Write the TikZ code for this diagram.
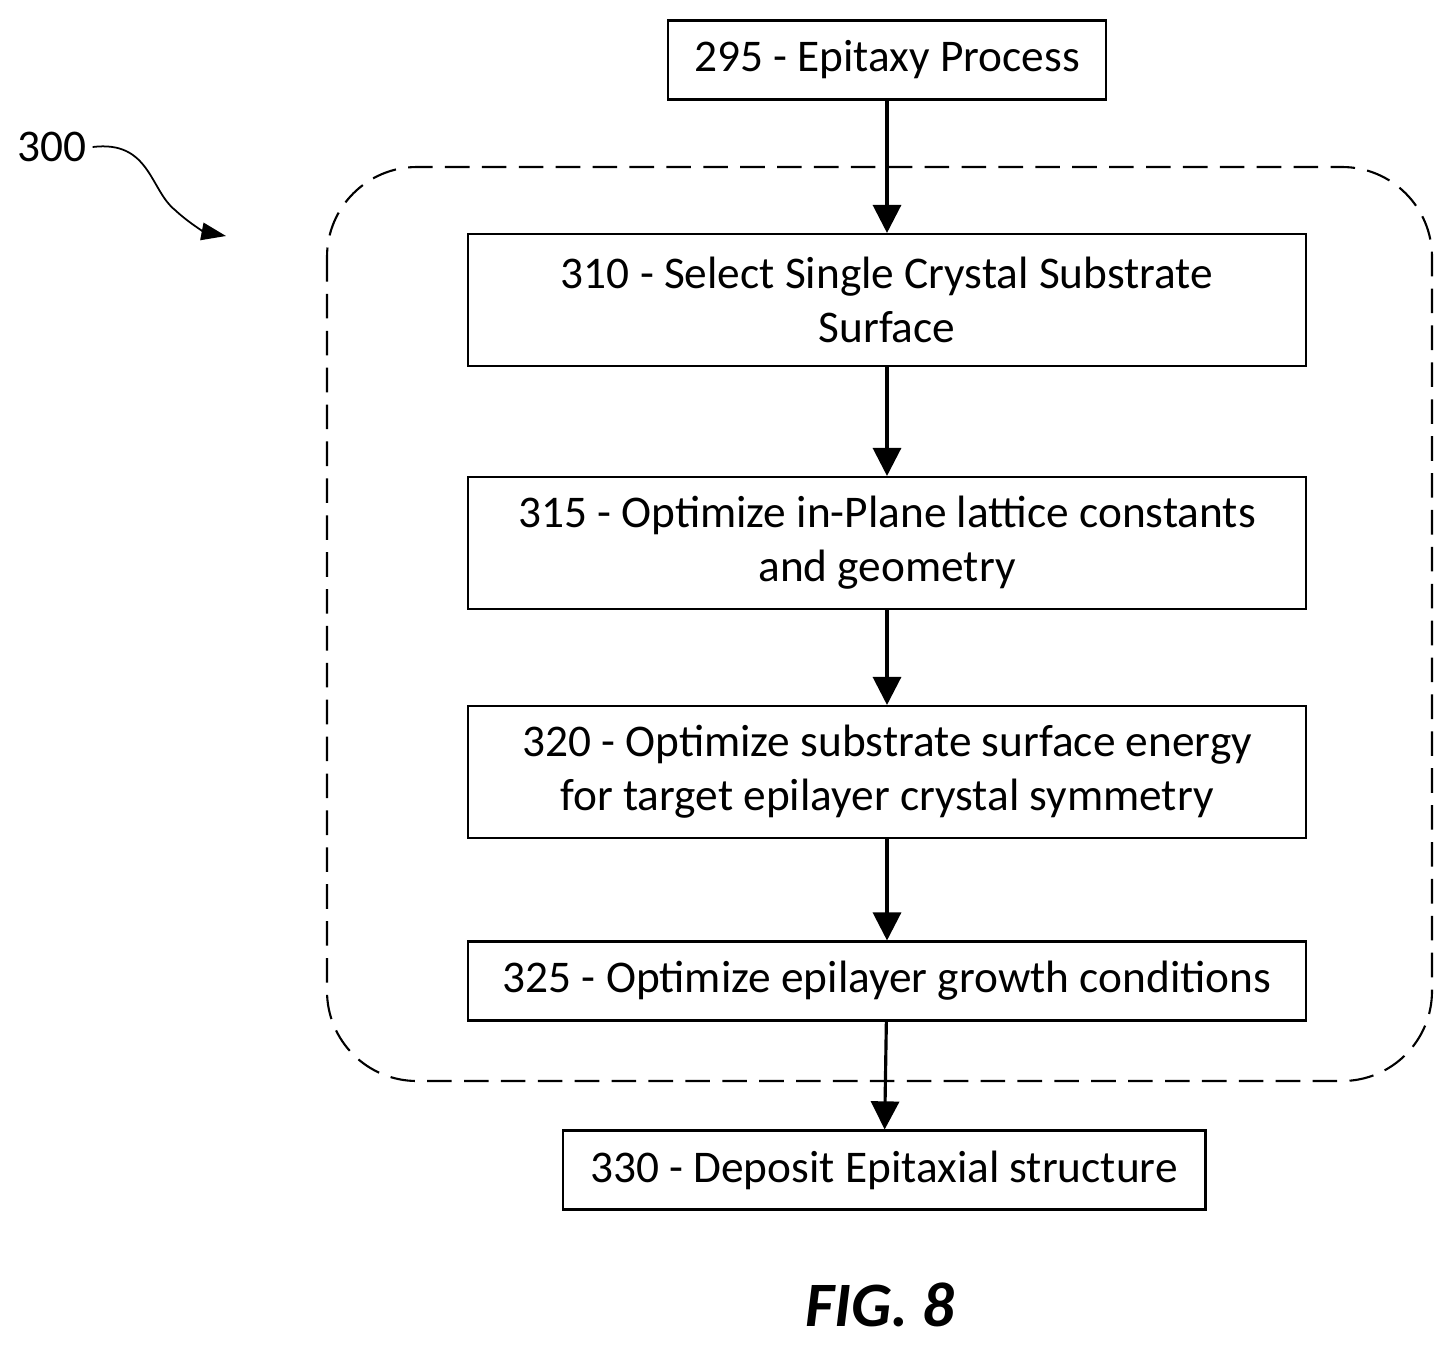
\documentclass[tikz,border=0pt]{standalone}
\usepackage{fontspec}
\setmainfont{Carlito}
\usetikzlibrary{arrows.meta,positioning}

\begin{document}
\begin{tikzpicture}[x=0.02cm, y=-0.02cm,
		block/.style={rectangle, draw, line width=1.2pt, align=center, minimum width=16.76cm, minimum height=2.64cm, font=\fontsize{25.8}{30.7}\selectfont},
		small/.style={rectangle, draw, line width=1.2pt, align=center, minimum height=1.58cm, font=\fontsize{25.8}{30.7}\selectfont},
		line/.style={draw, -{Triangle[length=16pt,width=16pt]}, line width=1.8pt}]
		\useasboundingbox (0,0) rectangle (1453,1346);
		% Nodes
		\node [small, minimum width=8.76cm] (epitaxy) at (887,60) {295 - Epitaxy Process};
		\node [block] (select) at (887,300) {310 - Select Single Crystal Substrate\\Surface};
		\node [block] (lattice) at (887,543) {315 - Optimize in-Plane lattice constants\\and geometry};
		\node [block] (energy) at (887,772) {320 - Optimize substrate surface energy\\for target epilayer crystal symmetry};
		\node [small, minimum width=16.76cm] (growth) at (887,981) {325 - Optimize epilayer growth conditions};
		\node [small, minimum width=12.86cm] (deposit) at (884,1170) {330 - Deposit Epitaxial structure};
		\node [font=\fontsize{25.8}{30}\selectfont] (label) at (52,147) {300};
		\node [font=\fontsize{36}{42}\selectfont\bfseries\itshape] (fig) at (880,1305) {FIG. 8};
		\coordinate (target) at (226,236);

		% Dashed frame
		\draw [dashed, line width=1.2pt, dash pattern=on 14pt off 7pt, rounded corners=1.8cm] (327,167) rectangle (1432,1081);

		% Paths
		\path [line] (epitaxy) -- (select);
		\path [line] (select) -- (lattice);
		\path [line] (lattice) -- (energy);
		\path [line] (energy) -- (growth);
		\path [line] (growth) -- (deposit);
		\draw [line width=1pt, -{Triangle[length=14pt,width=10pt]}] (label.east) .. controls (150,140) and (150,190) .. (175,210) .. controls (190,224) and (205,232) .. (target);
	\end{tikzpicture}
\end{document}
